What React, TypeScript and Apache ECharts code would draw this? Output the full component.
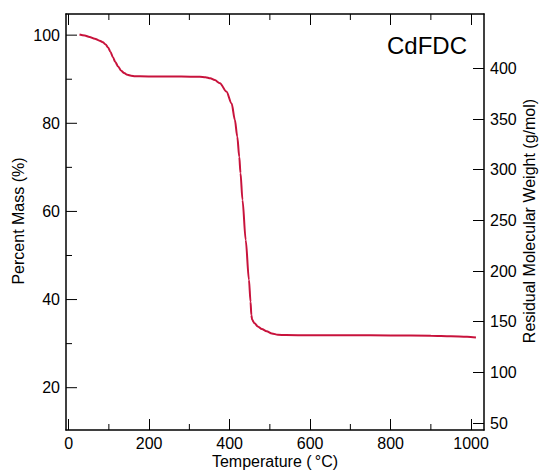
import React, { useEffect, useRef } from "react";
import * as echarts from "echarts";

const temperature = [27, 40, 52, 65, 77, 85, 92, 98, 104, 110, 116, 123, 130, 138, 146, 155, 165, 177, 220, 280, 326, 340, 352, 363, 376, 392, 405, 413, 419, 424, 427, 432, 440, 448, 452, 454, 456, 462, 470, 480, 492, 505, 520, 540, 600, 700, 800, 900, 950, 990, 1012];
const percentMass = [100.15, 99.9, 99.6, 99.2, 98.75, 98.4, 97.9, 97.2, 96.2, 95.0, 93.9, 92.9, 92.0, 91.4, 91.0, 90.8, 90.7, 90.65, 90.6, 90.6, 90.55, 90.45, 90.2, 89.8, 89.1, 87.2, 84.5, 80.8, 77.0, 72.4, 68.7, 62.6, 53.5, 44.5, 39.5, 36.5, 35.4, 34.6, 33.9, 33.3, 32.8, 32.3, 32.0, 31.95, 31.9, 31.9, 31.85, 31.8, 31.7, 31.55, 31.4];

const xMajorTicks = [0, 200, 400, 600, 800, 1000];
const xMinorTicks = [100, 300, 500, 700, 900];
const yMajorTicks = [20, 40, 60, 80, 100];
const yMinorTicks = [30, 50, 70, 90];
const mwTicks = [50, 100, 150, 200, 250, 300, 350, 400];

const FONT = "'Liberation Sans', Arial, Helvetica, sans-serif";
const X_MIN = -6.5;
const X_MAX = 1032;
const Y_MIN = 10.4;
const Y_MAX = 104.8;
const MW_MIN = 43.2;
const MW_MAX = 453.6;

export default function App() {
  const ref = useRef<HTMLDivElement>(null);
  useEffect(() => {
    if (!ref.current) return;
    const chart = echarts.init(ref.current, undefined, { renderer: "svg" });
    const line = { show: true, onZero: false, lineStyle: { color: "#000", width: 1.5 } };
    const tick = (vals: number[]) => ({
      show: true,
      inside: true,
      length: 11,
      customValues: vals,
      lineStyle: { color: "#000", width: 1 },
    });
    const label = (vals: number[], margin: number) => ({
      show: true,
      customValues: vals,
      fontSize: 16,
      color: "#000",
      fontFamily: FONT,
      margin,
      formatter: (v: number) => String(v),
    });
    const tickSeries = (data: number[][], dx: number, dy: number) => ({
      type: "custom",
      xAxisIndex: 0,
      yAxisIndex: 0,
      clip: false,
      silent: true,
      data,
      renderItem: (_p: any, api: any) => {
        const pt = api.coord([api.value(0), api.value(1)]);
        return {
          type: "line",
          shape: { x1: pt[0], y1: pt[1], x2: pt[0] + dx, y2: pt[1] + dy },
          style: { stroke: "#000", lineWidth: 1 },
        };
      },
    });
    const option = {
      animation: false,
      backgroundColor: "#fff",
      grid: { left: 66, right: 56, top: 14, bottom: 43, containLabel: false },
      xAxis: [
        { type: "value", position: "bottom", min: X_MIN, max: X_MAX, axisLine: line, axisTick: tick(xMajorTicks), axisLabel: label(xMajorTicks, 5), splitLine: { show: false } },
        { type: "value", position: "top", min: X_MIN, max: X_MAX, axisLine: line, axisTick: tick(xMajorTicks), axisLabel: { show: false }, splitLine: { show: false } },
      ],
      yAxis: [
        { type: "value", position: "left", min: Y_MIN, max: Y_MAX, axisLine: line, axisTick: { show: false }, axisLabel: label(yMajorTicks, 6), splitLine: { show: false } },
        { type: "value", position: "right", min: MW_MIN, max: MW_MAX, axisLine: line, axisTick: tick(mwTicks), axisLabel: label(mwTicks, 6), splitLine: { show: false } },
      ],
      graphic: [
        {
          type: "text",
          x: 275,
          y: 461,
          style: { text: "Temperature (\u2009°C)", font: `16px ${FONT}`, fill: "#000", align: "center", verticalAlign: "middle" },
        },
        {
          type: "text",
          x: 18.5,
          y: 221,
          rotation: Math.PI / 2,
          style: { text: "Percent Mass (%)", font: `16px ${FONT}`, fill: "#000", align: "center", verticalAlign: "middle" },
        },
        {
          type: "text",
          x: 529,
          y: 221,
          rotation: Math.PI / 2,
          style: { text: "Residual Molecular Weight (g/mol)", font: `16px ${FONT}`, fill: "#000", align: "center", verticalAlign: "middle" },
        },
        {
          type: "text",
          x: 467,
          y: 45,
          style: { text: "CdFDC", font: `24px ${FONT}`, fill: "#000", align: "right", verticalAlign: "middle" },
        },
      ],
      series: [
        tickSeries(xMinorTicks.map((v) => [v, Y_MIN]), 0, -6),
        tickSeries(xMinorTicks.map((v) => [v, Y_MAX]), 0, 6),
        tickSeries(yMinorTicks.map((v) => [X_MIN, v]), 6, 0),
        tickSeries(yMajorTicks.map((v) => [X_MIN, v]), 11, 0),
        {
          type: "line",
          xAxisIndex: 0,
          yAxisIndex: 0,
          data: temperature.map((t, i) => [t, percentMass[i]]),
          showSymbol: false,
          smooth: 0.3,
          smoothMonotone: "x",
          lineStyle: { color: "#c8133c", width: 2 },
        },
      ],
    };
    chart.setOption(option as any);
    return () => chart.dispose();
  }, []);
  return <div ref={ref} style={{ position: "absolute", left: 0, top: 0, width: 540, height: 473 }} />;
}
